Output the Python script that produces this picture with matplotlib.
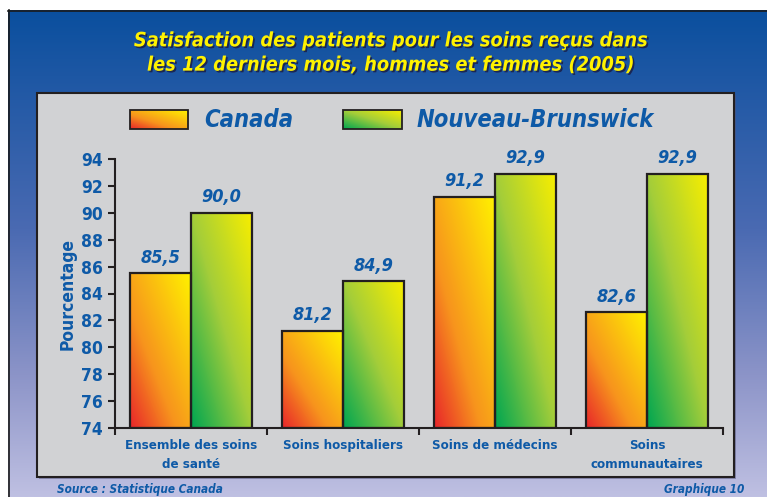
import numpy as np
import matplotlib
matplotlib.use("Agg")
import matplotlib.pyplot as plt
from matplotlib.colors import LinearSegmentedColormap
from matplotlib.patches import Rectangle
import matplotlib.patheffects as pe

# ---------------- data ----------------
categories = ["Ensemble des soins\nde santé", "Soins hospitaliers",
              "Soins de médecins", "Soins\ncommunautaires"]
series_names = ["Canada", "Nouveau-Brunswick"]
canada = [85.5, 81.2, 91.2, 82.6]
nouveau_brunswick = [90.0, 84.9, 92.9, 92.9]
yticks = [74, 76, 78, 80, 82, 84, 86, 88, 90, 92, 94]
title = "Satisfaction des patients pour les soins reçus dans\nles 12 derniers mois, hommes et femmes (2005)"
ylabel = "Pourcentage"
source = "Source : Statistique Canada"
graph_no = "Graphique 10"

FONT = ["DejaVu Sans"]
ST = "condensed"
BLUE = "#0E5AA7"
YELLOW = "#FFF200"
GREY = "#D1D2D4"

cmap_ca = LinearSegmentedColormap.from_list(
    "ca", [(0, "#E8262A"), (0.38, "#F7941D"), (1.0, "#FFF100")])
cmap_nb = LinearSegmentedColormap.from_list(
    "nb", [(0, "#00A651"), (0.5, "#A3CD3A"), (1.0, "#F7EE00")])


def diag_gradient(n=64):
    u = np.linspace(0, 1, n)
    v = np.linspace(1, 0, n)  # row 0 = top
    U, V = np.meshgrid(u, v)
    return (U + V) / 2


W, H = 767, 497
fig = plt.figure(figsize=(W / 100, H / 100), dpi=100)

# ---------------- background (pixel coords) ----------------
bg = fig.add_axes([0, 0, 1, 1])
bg.set_xlim(0, W)
bg.set_ylim(H, 0)
bg.axis("off")
fig.patch.set_facecolor("white")

stops = [(0.0, "#0A4F9E"), (0.45, "#4A6AB2"), (0.75, "#8C94C8"), (1.0, "#BFC0E2")]
bcmap = LinearSegmentedColormap.from_list("bgc", stops)
grad = np.linspace(0, 1, 256).reshape(-1, 1)
bg.imshow(grad, cmap=bcmap, extent=(8, W, H, 10), aspect="auto",
          interpolation="bilinear", zorder=0)
bg.plot([8.5, 8.5], [10, H], color="#1a1a1a", lw=1.2, zorder=1)
bg.plot([8, W], [10.5, 10.5], color="#1a1a1a", lw=1.2, zorder=1)

# grey panel
bg.add_patch(Rectangle((39, 95), 697, 384, fc="#55557a", ec="none", zorder=1, alpha=0.5))
bg.add_patch(Rectangle((37, 93), 697, 384, fc=GREY, ec="#231F20", lw=1.5, zorder=2))

# legend
leg_boxes = [(130, 188, 204), (343, 402, 417)]
for (x0, x1, tx), cm, name in zip(leg_boxes, [cmap_ca, cmap_nb], series_names):
    bg.imshow(diag_gradient(), cmap=cm, vmin=0, vmax=1, extent=(x0, x1, 129, 110),
              aspect="auto", interpolation="bilinear", zorder=3)
    bg.add_patch(Rectangle((x0, 110), x1 - x0, 19, fill=False, ec="#231F20", lw=1.3, zorder=4))
    bg.text(tx, 120, name, family=FONT, fontstretch=ST, fontsize=17, fontweight="bold",
            fontstyle="italic", color=BLUE, va="center", ha="left", zorder=4)
bg.set_xlim(0, W)
bg.set_ylim(H, 0)

# title
fig.text(391 / W, 1 - 53 / H, title, family=FONT, fontstretch=ST, fontsize=14.3,
         fontweight="bold", fontstyle="italic", color=YELLOW, ha="center", va="center",
         linespacing=1.35,
         path_effects=[pe.withSimplePatchShadow(offset=(1.2, -1.2), shadow_rgbFace="#1a1a40", alpha=0.8)])

# footer
fig.text(57 / W, 1 - 489 / H, source, family=FONT, fontstretch=ST, fontsize=8.5,
         fontweight="bold", fontstyle="italic", color=BLUE, ha="left", va="center")
fig.text(744 / W, 1 - 489 / H, graph_no, family=FONT, fontstretch=ST, fontsize=8.5,
         fontweight="bold", fontstyle="italic", color=BLUE, ha="right", va="center")

# y label
fig.text(68 / W, 1 - 294 / H, ylabel, family=FONT, fontstretch=ST, fontsize=12.5,
         fontweight="bold", color=BLUE, rotation=90, ha="center", va="center")

# ---------------- main axes ----------------
ax = fig.add_axes([115 / W, 69 / H, 608 / W, 269 / H])
ax.patch.set_visible(False)
ax.set_xlim(0, 4)
ax.set_ylim(74, 94)

ymin = yticks[0]
for i, (vc, vn) in enumerate(zip(canada, nouveau_brunswick)):
    for x0, val, cm in [(i + 0.1, vc, cmap_ca), (i + 0.5, vn, cmap_nb)]:
        ax.imshow(diag_gradient(), cmap=cm, vmin=0, vmax=1,
                  extent=(x0, x0 + 0.4, ymin, val), aspect="auto",
                  interpolation="bilinear", zorder=2)
        ax.add_patch(Rectangle((x0, ymin), 0.4, val - ymin, fill=False,
                               ec="#231F20", lw=1.6, zorder=3))
        ax.text(x0 + 0.2, val + 0.5, f"{val:.1f}".replace(".", ","), family=FONT,
                fontstretch=ST, fontsize=13, fontweight="bold", fontstyle="italic",
                color=BLUE, ha="center", va="bottom", zorder=4)
    ax.annotate(categories[i], xy=(i + 0.5, ymin), xytext=(0, -8),
                textcoords="offset points", ha="center", va="top", family=FONT,
                fontstretch=ST, fontsize=9.5, fontweight="bold", color=BLUE,
                linespacing=1.55)

ax.set_xlim(0, 4)
ax.set_ylim(74, 94)
ax.set_yticks(yticks)
ax.set_yticklabels([str(t) for t in yticks], family=FONT, fontstretch=ST, fontsize=12.5,
                   fontweight="bold", color=BLUE)
ax.set_xticks([0, 1, 2, 3, 4])
ax.set_xticklabels([])
ax.tick_params(axis="y", direction="out", length=5, width=1.5, color="#231F20", pad=4)
ax.tick_params(axis="x", direction="out", length=5, width=1.5, color="#231F20")
for s in ["top", "right"]:
    ax.spines[s].set_visible(False)
for s in ["left", "bottom"]:
    ax.spines[s].set_color("#231F20")
    ax.spines[s].set_linewidth(1.5)

fig.savefig("out.png", dpi=100)
